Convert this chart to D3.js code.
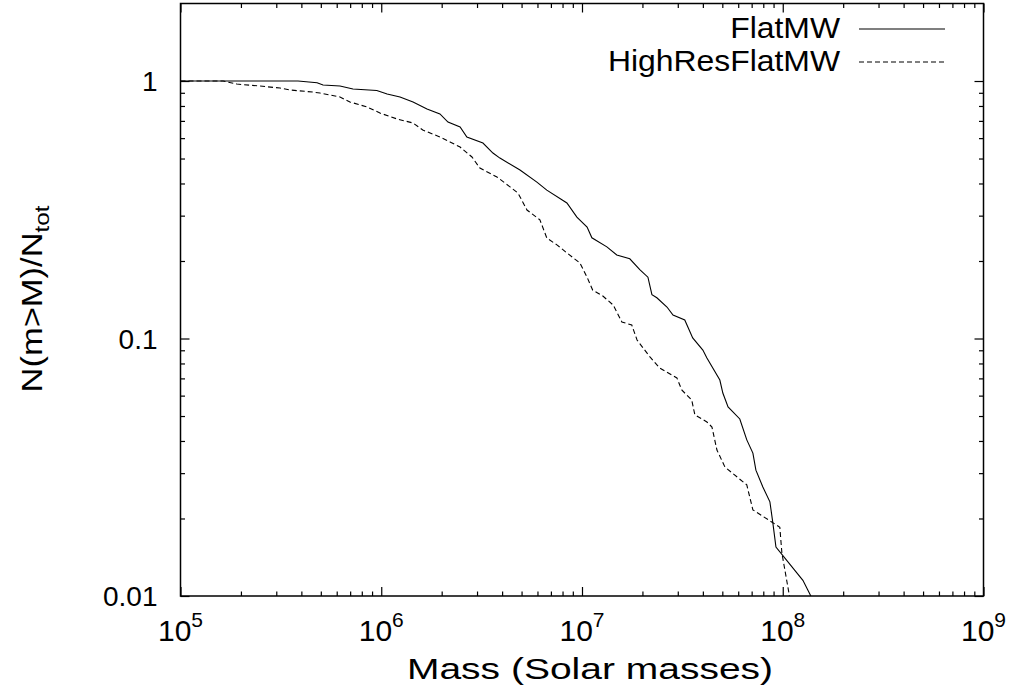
<!DOCTYPE html>
<html>
<head>
<meta charset="utf-8">
<script src="https://cdn.jsdelivr.net/npm/d3@7"></script>
<style>
  body { margin: 0; background: #fff; }
  text { font-family: "Liberation Sans", Arial, Helvetica, sans-serif; fill: #000; }
</style>
</head>
<body>
<div id="chart"></div>
<script>
// FlatMW cumulative fraction
const flatMass = [1e5, 3.85e5, 4.79e5, 5.13e5, 6.23e5, 7.23e5, 9.5e5, 1.07e6, 1.24e6, 1.44e6,
  1.69e6, 1.96e6, 2.15e6, 2.47e6, 2.67e6, 3.21e6, 3.60e6, 3.90e6, 4.91e6, 5.96e6,
  6.68e6, 8.41e6, 9.43e6, 1.06e7, 1.12e7, 1.33e7, 1.49e7, 1.73e7, 1.94e7, 2.13e7,
  2.23e7, 2.36e7, 2.65e7, 2.84e7, 3.25e7, 3.56e7, 4.00e7, 4.19e7, 4.86e7, 5.03e7,
  5.34e7, 6.11e7, 6.62e7, 7.10e7, 7.35e7, 7.96e7, 8.63e7, 8.93e7, 9.25e7, 1.26e8, 1.38e8];
const flatFrac = [1, 1, 0.985, 0.965, 0.956, 0.931, 0.919, 0.890, 0.867, 0.829,
  0.779, 0.745, 0.693, 0.663, 0.606, 0.574, 0.525, 0.502, 0.451, 0.405,
  0.377, 0.336, 0.296, 0.271, 0.246, 0.227, 0.211, 0.204, 0.185, 0.173,
  0.148, 0.144, 0.1325, 0.1234, 0.118, 0.1005, 0.0902, 0.0840, 0.0690, 0.0614,
  0.0542, 0.0487, 0.0404, 0.0359, 0.0308, 0.0265, 0.0232, 0.0192, 0.0155, 0.0115, 0.01];

// HighResFlatMW cumulative fraction
const highMass = [1e5, 1.63e5, 1.91e5, 2.49e5, 3.13e5, 3.51e5, 4.57e5, 4.95e5, 6.23e5, 6.98e5,
  8.49e5, 9.85e5, 1.20e6, 1.44e6, 1.61e6, 1.96e6, 2.20e6, 2.47e6, 2.83e6, 3.10e6,
  3.77e6, 4.38e6, 4.80e6, 5.32e6, 6.17e6, 6.68e6, 7.50e6, 8.41e6, 9.76e6, 1.06e7,
  1.13e7, 1.27e7, 1.43e7, 1.58e7, 1.77e7, 1.88e7, 2.18e7, 2.44e7, 2.97e7, 3.14e7,
  3.52e7, 3.65e7, 4.19e7, 4.44e7, 4.70e7, 5.15e7, 6.62e7, 7.10e7, 9.67e7, 9.90e7, 1.08e8];
const highFrac = [1, 1, 0.973, 0.956, 0.939, 0.923, 0.906, 0.898, 0.867, 0.829,
  0.793, 0.751, 0.712, 0.687, 0.645, 0.606, 0.580, 0.554, 0.507, 0.459,
  0.424, 0.388, 0.367, 0.3155, 0.289, 0.2456, 0.231, 0.215, 0.1965, 0.173,
  0.1543, 0.1462, 0.1349, 0.1159, 0.1128, 0.0987, 0.0848, 0.0768, 0.0703, 0.0631,
  0.0577, 0.0505, 0.0474, 0.0453, 0.0369, 0.0317, 0.0270, 0.0216, 0.0185, 0.0147, 0.01];

const seriesNames = ["FlatMW", "HighResFlatMW"];
const xTickExp = [5, 6, 7, 8, 9];
const yTickVals = [1, 0.1, 0.01];
const yTickLabels = ["1", "0.1", "0.01"];

const width = 1016, height = 696;
const mLeft = 180.5, mRight = 983.5, mTop = 3.5, mBottom = 596;

const svg = d3.select("#chart")
  .append("svg")
    .attr("width", width)
    .attr("height", height);

const x = d3.scaleLog().domain([1e5, 1e9]).range([mLeft, mRight]);
const y = d3.scaleLog().domain([0.01, 2]).range([mBottom, mTop]);

// minor tick values
const xMinor = [];
for (let e = 5; e < 9; e++) for (let k = 2; k < 10; k++) xMinor.push(k * Math.pow(10, e));
const yMinor = [];
for (let e = -2; e < 0; e++) for (let k = 2; k < 10; k++) yMinor.push(k * Math.pow(10, e));

function ticks(g, axisFn, scale, vals, size) {
  g.call(axisFn(scale).tickValues(vals).tickSize(size).tickFormat(""))
   .call(s => s.select(".domain").remove())
   .selectAll("line").attr("stroke", "#000").attr("stroke-width", 1.2);
}
const majorX = xTickExp.map(e => Math.pow(10, e));

// gnuplot style inward ticks, mirrored on all sides
svg.append("g").attr("transform", `translate(0,${mBottom})`).call(ticks, d3.axisBottom, x, majorX, -9);
svg.append("g").attr("transform", `translate(0,${mBottom})`).call(ticks, d3.axisBottom, x, xMinor, -4.5);
svg.append("g").attr("transform", `translate(0,${mTop})`).call(ticks, d3.axisTop, x, majorX, -9);
svg.append("g").attr("transform", `translate(0,${mTop})`).call(ticks, d3.axisTop, x, xMinor, -4.5);
svg.append("g").attr("transform", `translate(${mLeft},0)`).call(ticks, d3.axisLeft, y, yTickVals, -9);
svg.append("g").attr("transform", `translate(${mLeft},0)`).call(ticks, d3.axisLeft, y, yMinor, -4.5);
svg.append("g").attr("transform", `translate(${mRight},0)`).call(ticks, d3.axisRight, y, yTickVals, -9);
svg.append("g").attr("transform", `translate(${mRight},0)`).call(ticks, d3.axisRight, y, yMinor, -4.5);

// border
svg.append("rect")
  .attr("x", mLeft).attr("y", mTop)
  .attr("width", mRight - mLeft).attr("height", mBottom - mTop)
  .attr("fill", "none").attr("stroke", "#000").attr("stroke-width", 1.5);

// tick labels
svg.selectAll(".ylab").data(yTickVals).join("text")
  .attr("x", mLeft - 23)
  .attr("y", d => y(d) + 10)
  .attr("text-anchor", "end")
  .attr("font-size", 28)
  .text((d, i) => yTickLabels[i]);

const xl = svg.selectAll(".xlab").data(xTickExp).join("text")
  .attr("x", d => x(Math.pow(10, d)))
  .attr("y", 641)
  .attr("text-anchor", "middle")
  .attr("font-size", 30);
xl.append("tspan").text("10");
xl.append("tspan").attr("dy", -14).attr("font-size", 21).text(d => d);

// axis titles (the original's glyphs are drawn a bit wider than Arial)
svg.append("text")
  .attr("transform", "translate(590,679) scale(1.3,1)")
  .attr("text-anchor", "middle")
  .attr("font-size", 30)
  .text("Mass (Solar masses)");

const yt = svg.append("text")
  .attr("transform", "translate(42,299) rotate(-90) scale(1.15,1)")
  .attr("text-anchor", "middle")
  .attr("font-size", 30);
yt.append("tspan").text("N(m>M)/N");
yt.append("tspan").attr("dy", 7).attr("font-size", 21).text("tot");

// curves
svg.append("clipPath").attr("id", "plotclip")
  .append("rect").attr("x", mLeft).attr("y", mTop)
  .attr("width", mRight - mLeft).attr("height", mBottom - mTop);

const line = d3.line().x(d => x(d[0])).y(d => y(d[1]));
const flatData = d3.zip(flatMass, flatFrac);
const highData = d3.zip(highMass, highFrac);
const dashes = [null, "5,3"];

const plot = svg.append("g").attr("clip-path", "url(#plotclip)");
[flatData, highData].forEach((data, i) => {
  plot.append("path")
    .datum(data)
    .attr("d", line)
    .attr("fill", "none")
    .attr("stroke", "#000")
    .attr("stroke-width", 1.1)
    .attr("stroke-dasharray", dashes[i]);
});

// legend
const legendY = [29, 62];
seriesNames.forEach((name, i) => {
  svg.append("text")
    .attr("transform", `translate(840,${legendY[i] + 9}) scale(1.1,1)`)
    .attr("text-anchor", "end")
    .attr("font-size", 29)
    .text(name);
  svg.append("line")
    .attr("x1", 859).attr("x2", 945)
    .attr("y1", legendY[i]).attr("y2", legendY[i])
    .attr("stroke", "#000")
    .attr("stroke-width", 1.1)
    .attr("stroke-dasharray", dashes[i]);
});
</script>
</body>
</html>
